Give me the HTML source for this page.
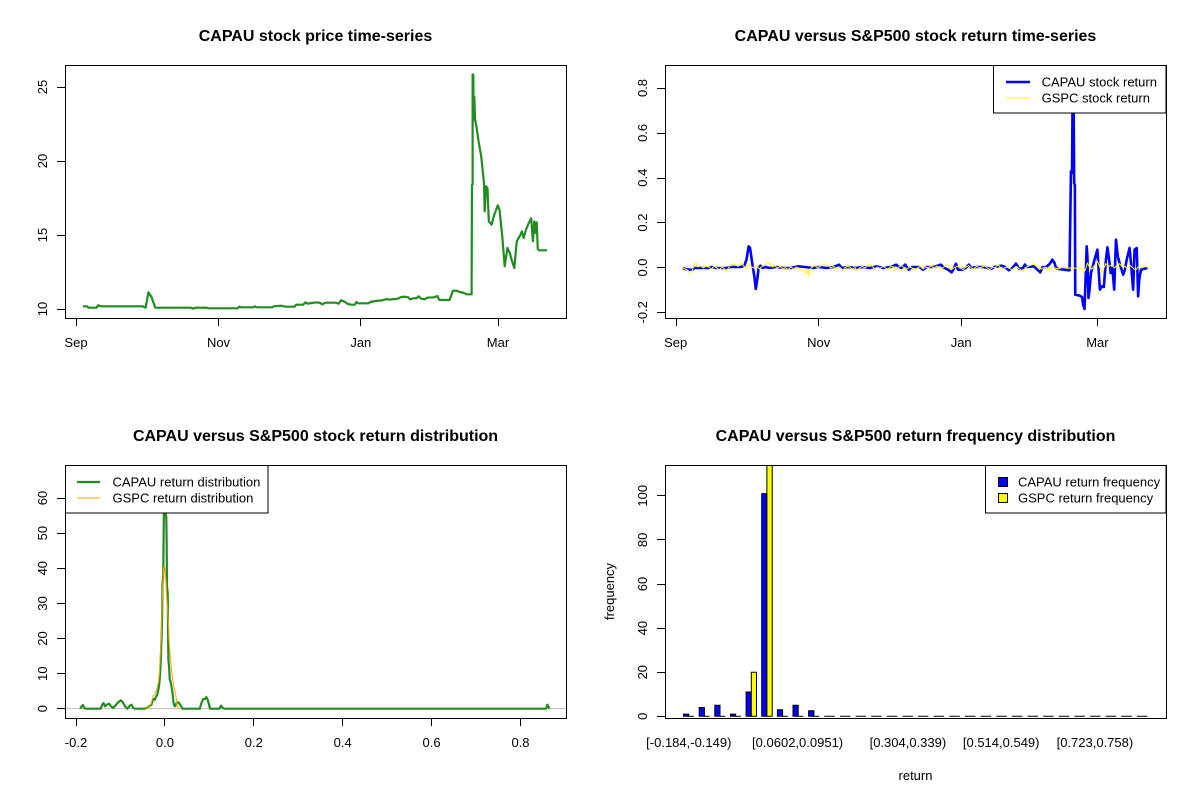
<!DOCTYPE html>
<html><head><meta charset="utf-8"><style>
html,body{margin:0;padding:0;background:#fff;}
svg{display:block;}
text{font-family:"Liberation Sans",Arial,sans-serif;fill:#000;}
.t{font-weight:bold;font-size:16px;text-anchor:middle;}
.l{font-size:13px;text-anchor:middle;}
.g{font-size:13px;}
.ax{stroke:#000;stroke-width:1;fill:none;}
.ne{vector-effect:non-scaling-stroke;fill:none;stroke-linejoin:round;}
</style></head><body>
<svg width="1200" height="800" viewBox="0 0 1200 800" xmlns="http://www.w3.org/2000/svg">
<defs>
<clipPath id="c1"><rect x="65" y="65" width="501" height="253"/></clipPath>
<clipPath id="c2"><rect x="665" y="65" width="501" height="253"/></clipPath>
<clipPath id="c3"><rect x="65" y="465" width="501" height="253"/></clipPath>
<clipPath id="c4"><rect x="665" y="465" width="501" height="253"/></clipPath>
</defs>
<rect width="1200" height="800" fill="#fff"/>

<!-- ===== Panel 1 ===== -->
<text class="t" x="315.5" y="41">CAPAU stock price time-series</text>
<g clip-path="url(#c1)">
<g transform="translate(65,65) scale(0.34457,0.33333) translate(-74,-16)">
<polyline class="ne" stroke="#228B22" stroke-width="2.2" points="126,740 138,740 142,744 165,744 170,737 178,740 300,740 308,744 316,698 325,712 336,744 440,744 445,747 455,744 485,744 490,746 575,746 580,741 585,743 620,743 625,740 630,743 675,743 680,740 700,738 715,741 740,741 745,735 765,735 772,728 778,732 790,730 805,728 815,730 820,734 830,729 860,729 868,732 875,722 885,726 895,733 905,735 915,735 920,727 925,731 955,731 960,727 975,724 995,722 1000,720 1010,718 1015,720 1030,718 1040,717 1050,712 1060,711 1070,713 1075,719 1085,716 1095,715 1100,710 1108,717 1118,719 1125,714 1145,713 1155,709 1160,721 1190,721 1200,693 1210,693 1220,697 1232,700 1240,704 1254,704 1255,376 1257,375 1257,44 1259,46 1260,180 1262,112 1264,180 1268,200 1275,250 1282,290 1287,340 1290,370 1292,455 1296,380 1300,385 1303,460 1304,485 1312,495 1320,465 1330,437 1335,450 1343,530 1350,620 1358,565 1365,580 1370,600 1378,625 1385,545 1395,527 1400,515 1405,535 1412,510 1420,490 1427,476 1432,545 1436,485 1440,520 1443,488 1446,568 1450,572 1473,572"/>
</g></g>
<rect class="ax" x="65.5" y="65.5" width="501" height="253"/>
<path class="ax" d="M57,87.5H65M57,161.5H65M57,235.5H65M57,309.5H65M76.5,318V326M218.5,318V326M360.5,318V326M498.5,318V326"/>
<text class="l" transform="translate(47,309) rotate(-90)">10</text>
<text class="l" transform="translate(47,235) rotate(-90)">15</text>
<text class="l" transform="translate(47,161) rotate(-90)">20</text>
<text class="l" transform="translate(47,87) rotate(-90)">25</text>
<text class="l" x="76" y="347">Sep</text>
<text class="l" x="218.5" y="347">Nov</text>
<text class="l" x="360.8" y="347">Jan</text>
<text class="l" x="498" y="347">Mar</text>

<!-- ===== Panel 2 ===== -->
<text class="t" x="915.5" y="41">CAPAU versus S&amp;P500 stock return time-series</text>
<g clip-path="url(#c2)">
<g transform="translate(665,65) scale(0.35735,0.33333) translate(-128,-16)">
<polyline class="ne" stroke="#0000FF" stroke-width="2.6" points="178,625 185,628 195,630 205,630 210,625 250,625 260,622 270,625 300,625 310,622 340,622 350,618 356,600 362,560 366,565 372,610 378,650 382,688 386,660 390,625 395,618 400,625 410,622 420,625 440,622 460,625 480,625 500,620 520,622 540,625 560,622 580,625 600,622 615,615 620,622 625,625 640,622 660,625 680,622 700,625 720,620 740,625 760,622 775,615 780,620 790,625 800,615 810,630 820,622 840,622 850,630 860,622 880,622 900,615 910,625 920,630 930,638 935,630 942,612 948,630 960,630 970,625 978,615 985,625 1000,622 1020,622 1040,628 1050,622 1070,618 1080,622 1090,632 1100,625 1110,612 1115,620 1120,628 1130,625 1135,615 1140,622 1160,620 1170,630 1178,638 1185,622 1195,622 1205,612 1212,600 1218,610 1222,625 1230,628 1245,630 1260,632 1264,335 1267,340 1269,44 1271,44 1273,372 1275,375 1276,705 1288,708 1295,712 1298,735 1302,748 1305,655 1308,560 1310,590 1313,715 1316,690 1320,640 1330,600 1338,570 1342,640 1345,690 1350,680 1356,682 1362,600 1366,563 1372,610 1375,640 1380,625 1385,690 1390,540 1395,590 1400,610 1410,645 1415,630 1420,600 1428,565 1432,610 1438,690 1442,570 1448,565 1452,710 1455,660 1460,630 1478,625"/>
<polyline class="ne" stroke="#FFFF00" stroke-width="1" points="178,625 185,628 192,632 200,640 205,630 210,615 215,610 220,622 228,618 235,625 242,620 250,622 258,628 265,620 272,624 280,630 288,622 295,628 300,636 305,625 310,618 318,612 325,615 332,620 340,612 348,618 355,628 362,615 370,622 378,625 385,618 392,628 400,620 408,615 415,612 420,610 428,622 435,618 442,625 450,620 458,628 465,624 472,630 480,622 488,628 495,622 502,625 510,632 515,630 520,640 525,632 530,648 535,628 540,622 548,618 555,625 562,620 570,615 578,612 585,618 592,625 600,620 608,628 615,622 620,625 625,632 630,626 638,620 645,622 652,628 660,624 665,632 672,625 680,620 688,625 695,618 700,612 708,620 715,628 722,622 730,626 738,620 745,625 752,628 760,620 768,622 775,628 782,622 790,618 798,625 805,628 812,622 820,625 828,630 835,625 842,620 850,628 858,622 865,625 872,618 880,625 888,620 895,622 902,628 910,620 918,615 925,625 932,628 940,622 948,620 955,625 962,630 970,622 978,618 985,625 992,628 1000,620 1008,625 1015,622 1022,618 1030,625 1038,630 1045,622 1052,625 1060,615 1068,625 1075,628 1082,622 1090,625 1098,630 1105,625 1112,620 1120,628 1125,632 1130,635 1135,628 1140,622 1148,618 1155,615 1160,612 1168,620 1175,625 1182,628 1190,622 1198,625 1205,628 1212,622 1220,625 1228,628 1235,625 1242,622 1250,625 1258,626 1265,624 1272,625 1280,626 1288,625 1295,628 1300,640 1305,628 1310,610 1315,620 1322,628 1330,618 1338,605 1345,622 1350,640 1355,628 1362,612 1370,620 1378,615 1385,625 1392,618 1400,612 1408,622 1415,620 1422,628 1430,618 1438,625 1445,632 1452,622 1460,625 1468,620 1478,622"/>
</g></g>
<rect class="ax" x="665.5" y="65.5" width="501" height="253"/>
<path class="ax" d="M657,88.5H665M657,133.5H665M657,178.5H665M657,222.5H665M657,267.5H665M657,312.5H665M676.5,318V326M818.5,318V326M961.5,318V326M1097.5,318V326"/>
<text class="l" transform="translate(647,312.3) rotate(-90)">-0.2</text>
<text class="l" transform="translate(647,267.5) rotate(-90)">0.0</text>
<text class="l" transform="translate(647,222.6) rotate(-90)">0.2</text>
<text class="l" transform="translate(647,177.7) rotate(-90)">0.4</text>
<text class="l" transform="translate(647,132.9) rotate(-90)">0.6</text>
<text class="l" transform="translate(647,88) rotate(-90)">0.8</text>
<text class="l" x="675.7" y="347">Sep</text>
<text class="l" x="818.7" y="347">Nov</text>
<text class="l" x="961.2" y="347">Jan</text>
<text class="l" x="1097.4" y="347">Mar</text>
<rect x="993.5" y="65.5" width="172.5" height="47.5" fill="#fff" stroke="#000" stroke-width="1"/>
<line x1="1006" y1="82" x2="1030" y2="82" stroke="#0000FF" stroke-width="2.6"/>
<line x1="1006" y1="98" x2="1030" y2="98" stroke="#FFFF00" stroke-width="1"/>
<text class="g" x="1041.6" y="86.5">CAPAU stock return</text>
<text class="g" x="1041.6" y="102.5">GSPC stock return</text>

<!-- ===== Panel 3 ===== -->
<text class="t" x="315.5" y="441">CAPAU versus S&amp;P500 stock return distribution</text>
<g clip-path="url(#c3)">
<g transform="translate(65,465) scale(0.34457,0.33333) translate(-74,-16)">
<line class="ne" x1="74" y1="747" x2="1528" y2="747" stroke="#BEBEBE" stroke-width="1"/>
<polyline class="ne" stroke="#228B22" stroke-width="2.2" points="118,747 122,740 126,736 130,745 135,747 178,747 182,735 186,730 190,740 196,735 202,732 208,740 214,745 220,738 228,728 236,722 242,728 248,740 255,747 262,738 267,735 272,745 276,747 305,747 312,745 318,740 325,735 330,718 335,720 338,712 342,705 345,690 348,670 350,640 352,600 353,570 355,510 356,460 357,370 359,350 360,250 361,155 363,150 365,170 366,150 368,175 369,245 370,380 372,400 373,500 374,600 376,620 378,660 380,665 383,680 386,700 388,720 390,735 393,740 398,730 403,728 407,733 411,740 415,747 465,747 470,730 475,718 480,718 484,712 488,720 492,735 495,747 522,747 527,738 532,745 536,747 1470,747 1474,735 1477,740 1480,747"/>
<polyline class="ne" stroke="#FFA500" stroke-width="1" points="308,747 315,745 320,740 325,728 330,708 335,705 340,690 345,668 348,640 350,590 352,570 354,510 356,440 358,370 360,330 362,320 364,325 366,350 368,390 370,430 372,450 374,490 376,540 380,600 384,640 388,670 392,690 396,710 400,740 404,747"/>
</g></g>
<rect class="ax" x="65.5" y="465.5" width="501" height="253"/>
<path class="ax" d="M57,708.5H65M57,673.5H65M57,638.5H65M57,603.5H65M57,568.5H65M57,533.5H65M57,498.5H65M76.5,718V726M164.5,718V726M253.5,718V726M342.5,718V726M431.5,718V726M520.5,718V726"/>
<text class="l" transform="translate(47,708.7) rotate(-90)">0</text>
<text class="l" transform="translate(47,673.6) rotate(-90)">10</text>
<text class="l" transform="translate(47,638.5) rotate(-90)">20</text>
<text class="l" transform="translate(47,603.4) rotate(-90)">30</text>
<text class="l" transform="translate(47,568.2) rotate(-90)">40</text>
<text class="l" transform="translate(47,533.1) rotate(-90)">50</text>
<text class="l" transform="translate(47,498) rotate(-90)">60</text>
<text class="l" x="76" y="747">-0.2</text>
<text class="l" x="164.9" y="747">0.0</text>
<text class="l" x="253.8" y="747">0.2</text>
<text class="l" x="342.7" y="747">0.4</text>
<text class="l" x="431.6" y="747">0.6</text>
<text class="l" x="520.5" y="747">0.8</text>
<rect x="65.5" y="465.5" width="202.5" height="47.5" fill="#fff" stroke="#000" stroke-width="1"/>
<line x1="77" y1="482" x2="100" y2="482" stroke="#228B22" stroke-width="2.2"/>
<line x1="77" y1="498" x2="100" y2="498" stroke="#FFA500" stroke-width="1"/>
<text class="g" x="112.5" y="486.5">CAPAU return distribution</text>
<text class="g" x="112.5" y="502.5">GSPC return distribution</text>

<!-- ===== Panel 4 ===== -->
<text class="t" x="915.5" y="441">CAPAU versus S&amp;P500 return frequency distribution</text>
<g clip-path="url(#c4)" stroke="#000" stroke-width="1">
<path fill="#0000FF" d="M683.5,716.3V714.1H688.7V716.3Z"/>
<path fill="#FFFF00" d="M688.7,716.3H693.9"/>
<path fill="#0000FF" d="M699.2,716.3V707.5H704.4V716.3Z"/>
<path fill="#FFFF00" d="M704.4,716.3H709.6"/>
<path fill="#0000FF" d="M714.8,716.3V705.3H720.0V716.3Z"/>
<path fill="#FFFF00" d="M720.0,716.3H725.2"/>
<path fill="#0000FF" d="M730.5,716.3V714.1H735.7V716.3Z"/>
<path fill="#FFFF00" d="M735.7,716.3H740.9"/>
<path fill="#0000FF" d="M746.1,716.3V692.0H751.3V716.3Z"/>
<path fill="#FFFF00" d="M751.3,716.3V672.2H756.5V716.3Z"/>
<path fill="#0000FF" d="M761.7,716.3V493.6H766.9V716.3Z"/>
<path fill="#FFFF00" d="M766.9,716.3V464.9H772.2V716.3Z"/>
<path fill="#0000FF" d="M777.4,716.3V709.7H782.6V716.3Z"/>
<path fill="#FFFF00" d="M782.6,716.3H787.8"/>
<path fill="#0000FF" d="M793.0,716.3V705.3H798.2V716.3Z"/>
<path fill="#FFFF00" d="M798.2,716.3H803.4"/>
<path fill="#0000FF" d="M808.6,716.3V710.8H813.9V716.3Z"/>
<path fill="#FFFF00" d="M813.9,716.3H819.1"/>
<path fill="none" d="M824.3,716.3H834.7M839.9,716.3H850.3M855.6,716.3H866.0M871.2,716.3H881.6M886.8,716.3H897.3M902.5,716.3H912.9M918.1,716.3H928.5M933.7,716.3H944.2M949.4,716.3H959.8M965.0,716.3H975.4M980.6,716.3H991.1M996.3,716.3H1006.7M1011.9,716.3H1022.3M1027.5,716.3H1038.0M1043.2,716.3H1053.6M1058.8,716.3H1069.2M1074.4,716.3H1084.9M1090.1,716.3H1100.5M1105.7,716.3H1116.1M1121.3,716.3H1131.8M1137.0,716.3H1147.4"/>
</g>
<rect class="ax" x="665.5" y="465.5" width="501" height="253"/>
<path class="ax" d="M657,716.5H665M657,672.5H665M657,628.5H665M657,584.5H665M657,539.5H665M657,495.5H665"/>
<text class="l" transform="translate(647,716.3) rotate(-90)">0</text>
<text class="l" transform="translate(647,672.2) rotate(-90)">20</text>
<text class="l" transform="translate(647,628.1) rotate(-90)">40</text>
<text class="l" transform="translate(647,584) rotate(-90)">60</text>
<text class="l" transform="translate(647,539.9) rotate(-90)">80</text>
<text class="l" transform="translate(647,495.8) rotate(-90)">100</text>
<text class="l" transform="translate(614,591.5) rotate(-90)">frequency</text>
<text class="l" x="688.8" y="747">[-0.184,-0.149)</text>
<text class="l" x="797.6" y="747">[0.0602,0.0951)</text>
<text class="l" x="907.9" y="747">[0.304,0.339)</text>
<text class="l" x="1001.2" y="747">[0.514,0.549)</text>
<text class="l" x="1094.9" y="747">[0.723,0.758)</text>
<text class="l" x="915.5" y="780">return</text>
<rect x="985.5" y="465.5" width="180.5" height="47.5" fill="#fff" stroke="#000" stroke-width="1"/>
<rect x="998.5" y="477.5" width="9" height="9" fill="#0000FF" stroke="#000" stroke-width="1"/>
<rect x="998.5" y="493.5" width="9" height="9" fill="#FFFF00" stroke="#000" stroke-width="1"/>
<text class="g" x="1018" y="486.5">CAPAU return frequency</text>
<text class="g" x="1018" y="502.5">GSPC return frequency</text>
</svg>
</body></html>
